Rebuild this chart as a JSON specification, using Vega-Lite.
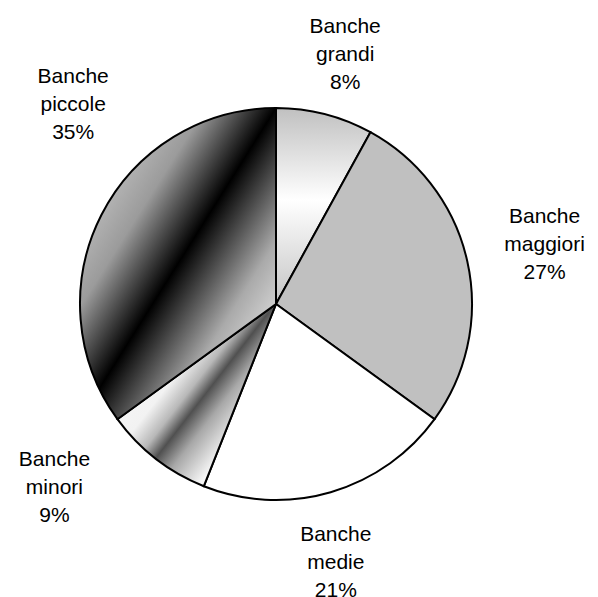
{
  "$schema": "https://vega.github.io/schema/vega-lite/v6.json",
  "width": 552,
  "height": 586,
  "autosize": "none",
  "padding": {"left": 0, "top": 11, "right": 46, "bottom": 0},
  "background": "white",
  "view": {"stroke": null},
  "data": {
    "values": [
      {"cat": "Banche grandi", "value": 8, "label": "Banche\ngrandi\n8%"},
      {"cat": "Banche maggiori", "value": 27, "label": "Banche\nmaggiori\n27%"},
      {"cat": "Banche medie", "value": 21, "label": "Banche\nmedie\n21%"},
      {"cat": "Banche minori", "value": 9, "label": "Banche\nminori\n9%"},
      {"cat": "Banche piccole", "value": 35, "label": "Banche\npiccole\n35%"}
    ]
  },
  "config": {
    "text": {"font": "Liberation Sans", "fontSize": 21, "lineHeight": 28, "lineBreak": "\n", "color": "#000000", "align": "center", "baseline": "middle", "dy": -28}
  },
  "encoding": {
    "theta": {"field": "value", "type": "quantitative", "stack": true},
    "detail": {"field": "cat", "type": "nominal"}
  },
  "layer": [
    {
      "mark": {"type": "arc", "outerRadius": 196, "stroke": "#000000", "strokeWidth": 2, "strokeJoin": "miter"},
      "encoding": {
        "fill": {
          "condition": [
            {"test": "datum.cat === 'Banche grandi'", "value": {"gradient": "linear", "x1": 0, "y1": 0, "x2": 0, "y2": 1, "stops": [{"offset": 0, "color": "#c0c0c0"}, {"offset": 0.47, "color": "#ffffff"}, {"offset": 1, "color": "#c4c4c4"}]}},
            {"test": "datum.cat === 'Banche maggiori'", "value": "#c0c0c0"},
            {"test": "datum.cat === 'Banche minori'", "value": {"gradient": "linear", "x1": 0, "y1": 0, "x2": 1, "y2": 0.89, "stops": [{"offset": 0, "color": "#ffffff"}, {"offset": 0.4, "color": "#f2f2f2"}, {"offset": 0.49, "color": "#b8b8b8"}, {"offset": 0.555, "color": "#505050"}, {"offset": 0.64, "color": "#a8a8a8"}, {"offset": 0.78, "color": "#f6f6f6"}, {"offset": 1, "color": "#ffffff"}]}},
            {"test": "datum.cat === 'Banche piccole'", "value": {"gradient": "linear", "x1": 0, "y1": 0, "x2": 1, "y2": 1, "stops": [{"offset": 0, "color": "#c4c4c4"}, {"offset": 0.23, "color": "#b0b0b0"}, {"offset": 0.32, "color": "#9b9b9b"}, {"offset": 0.5, "color": "#000000"}, {"offset": 0.715, "color": "#aaaaaa"}, {"offset": 0.82, "color": "#d0d0d0"}, {"offset": 1, "color": "#e0e0e0"}]}}
          ],
          "value": "#ffffff"
        }
      }
    },
    {
      "mark": {"type": "text", "radius": 258, "thetaOffset": 0.02},
      "encoding": {"text": {"condition": {"test": "datum.cat === 'Banche grandi'", "field": "label", "type": "nominal"}, "value": ""}}
    },
    {
      "mark": {"type": "text", "radius": 275, "thetaOffset": 0.0035},
      "encoding": {"text": {"condition": {"test": "datum.cat === 'Banche maggiori'", "field": "label", "type": "nominal"}, "value": ""}}
    },
    {
      "mark": {"type": "text", "radius": 266, "thetaOffset": 0.056},
      "encoding": {"text": {"condition": {"test": "datum.cat === 'Banche medie'", "field": "label", "type": "nominal"}, "value": ""}}
    },
    {
      "mark": {"type": "text", "radius": 288, "thetaOffset": 0.218},
      "encoding": {"text": {"condition": {"test": "datum.cat === 'Banche minori'", "field": "label", "type": "nominal"}, "value": ""}}
    },
    {
      "mark": {"type": "text", "radius": 284, "thetaOffset": 0.304},
      "encoding": {"text": {"condition": {"test": "datum.cat === 'Banche piccole'", "field": "label", "type": "nominal"}, "value": ""}}
    }
  ]
}
